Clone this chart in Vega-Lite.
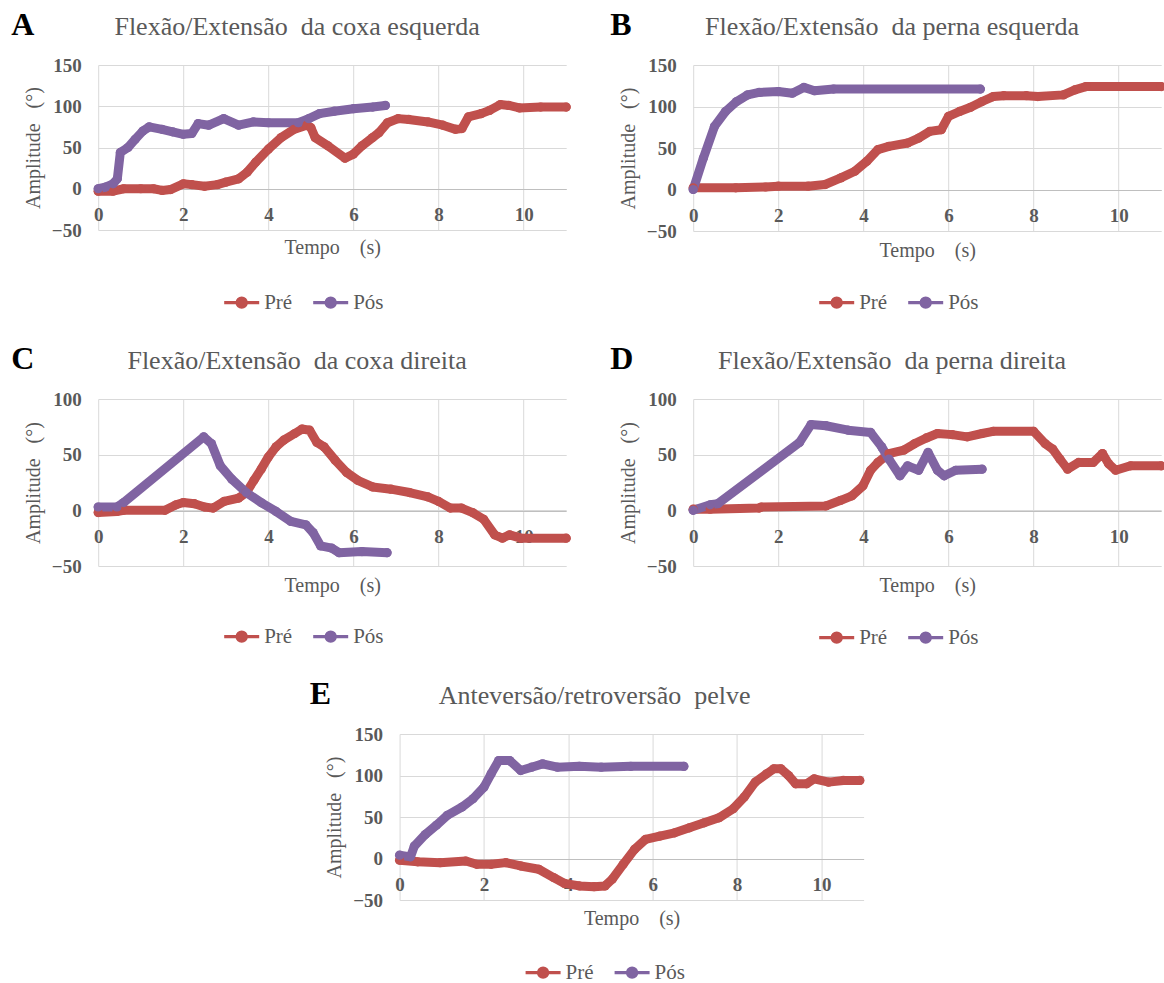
{
  "$schema": "https://vega.github.io/schema/vega-lite/v6.json",
  "background": "white",
  "padding": {"left": 11, "top": 9, "right": 0, "bottom": 0},
  "config": {
    "font": "Liberation Serif",
    "view": {"stroke": null},
    "title": {"font": "Liberation Serif", "fontSize": 26, "fontWeight": "normal", "color": "#595959", "offset": 16, "frame": "bounds"},
    "axis": {
      "labelFont": "Liberation Serif", "labelFontSize": 19, "labelFontWeight": "bold", "labelColor": "#595959",
      "titleFont": "Liberation Serif", "titleFontSize": 20, "titleFontWeight": "normal", "titleColor": "#595959",
      "ticks": false, "tickSize": 0, "gridColor": "#D9D9D9", "gridWidth": 1, "domainColor": "#BFBFBF", "domainWidth": 1.2
    },
    "axisY": {"domain": false, "labelPadding": 17, "titlePadding": 8},
    "axisX": {"labelPadding": 16, "labelFlush": false, "titleBaseline": "middle"},
    "legend": {
      "orient": "none", "direction": "horizontal", "labelFont": "Liberation Serif", "labelFontSize": 21, "labelColor": "#595959",
      "symbolType": "M-1,0L1,0M0.26,0A0.26,0.26,0,1,1,-0.26,0A0.26,0.26,0,1,1,0.26,0Z",
      "symbolSize": 1225, "symbolStrokeWidth": 3.3, "labelOffset": 3, "columnPadding": 14
    }
  },
  "datasets": {
    "A": [
      {"t":0,"v":-3,"s":"Pré"},{"t":0.35,"v":-3,"s":"Pré"},{"t":0.6,"v":0,"s":"Pré"},{"t":1.0,"v":0,"s":"Pré"},{"t":1.3,"v":0,"s":"Pré"},{"t":1.5,"v":-2,"s":"Pré"},{"t":1.7,"v":-1,"s":"Pré"},{"t":2.0,"v":6,"s":"Pré"},{"t":2.2,"v":5,"s":"Pré"},{"t":2.5,"v":3,"s":"Pré"},{"t":2.8,"v":5,"s":"Pré"},{"t":3.0,"v":8,"s":"Pré"},{"t":3.3,"v":12,"s":"Pré"},{"t":3.5,"v":20,"s":"Pré"},{"t":3.7,"v":32,"s":"Pré"},{"t":4.0,"v":48,"s":"Pré"},{"t":4.3,"v":62,"s":"Pré"},{"t":4.6,"v":72,"s":"Pré"},{"t":4.9,"v":77,"s":"Pré"},{"t":5.0,"v":74,"s":"Pré"},{"t":5.1,"v":62,"s":"Pré"},{"t":5.4,"v":52,"s":"Pré"},{"t":5.8,"v":37,"s":"Pré"},{"t":6.0,"v":42,"s":"Pré"},{"t":6.2,"v":52,"s":"Pré"},{"t":6.45,"v":62,"s":"Pré"},{"t":6.6,"v":68,"s":"Pré"},{"t":6.8,"v":80,"s":"Pré"},{"t":7.05,"v":85,"s":"Pré"},{"t":7.3,"v":84,"s":"Pré"},{"t":7.75,"v":81,"s":"Pré"},{"t":8.1,"v":77,"s":"Pré"},{"t":8.4,"v":72,"s":"Pré"},{"t":8.55,"v":73,"s":"Pré"},{"t":8.7,"v":87,"s":"Pré"},{"t":9.0,"v":91,"s":"Pré"},{"t":9.2,"v":95,"s":"Pré"},{"t":9.45,"v":102,"s":"Pré"},{"t":9.65,"v":101,"s":"Pré"},{"t":9.9,"v":98,"s":"Pré"},{"t":10.4,"v":99,"s":"Pré"},{"t":11.0,"v":99,"s":"Pré"},
      {"t":0,"v":0,"s":"Pós"},{"t":0.17,"v":2,"s":"Pós"},{"t":0.35,"v":6,"s":"Pós"},{"t":0.45,"v":12,"s":"Pós"},{"t":0.52,"v":44,"s":"Pós"},{"t":0.7,"v":50,"s":"Pós"},{"t":0.87,"v":60,"s":"Pós"},{"t":1.05,"v":70,"s":"Pós"},{"t":1.2,"v":75,"s":"Pós"},{"t":1.5,"v":72,"s":"Pós"},{"t":1.75,"v":69,"s":"Pós"},{"t":2.0,"v":66,"s":"Pós"},{"t":2.2,"v":67,"s":"Pós"},{"t":2.35,"v":79,"s":"Pós"},{"t":2.6,"v":77,"s":"Pós"},{"t":2.95,"v":85,"s":"Pós"},{"t":3.3,"v":77,"s":"Pós"},{"t":3.65,"v":81,"s":"Pós"},{"t":4.0,"v":80,"s":"Pós"},{"t":4.7,"v":80,"s":"Pós"},{"t":4.95,"v":85,"s":"Pós"},{"t":5.2,"v":91,"s":"Pós"},{"t":5.55,"v":94,"s":"Pós"},{"t":6.0,"v":97,"s":"Pós"},{"t":6.45,"v":99,"s":"Pós"},{"t":6.75,"v":101,"s":"Pós"}
    ],
    "B": [
      {"t":0,"v":2,"s":"Pré"},{"t":1.0,"v":2,"s":"Pré"},{"t":1.7,"v":3,"s":"Pré"},{"t":2.0,"v":4,"s":"Pré"},{"t":2.7,"v":4,"s":"Pré"},{"t":3.1,"v":6,"s":"Pré"},{"t":3.47,"v":14,"s":"Pré"},{"t":3.8,"v":22,"s":"Pré"},{"t":4.08,"v":34,"s":"Pré"},{"t":4.34,"v":48,"s":"Pré"},{"t":4.6,"v":52,"s":"Pré"},{"t":5.04,"v":56,"s":"Pré"},{"t":5.3,"v":62,"s":"Pré"},{"t":5.56,"v":70,"s":"Pré"},{"t":5.83,"v":72,"s":"Pré"},{"t":6.0,"v":88,"s":"Pré"},{"t":6.26,"v":94,"s":"Pré"},{"t":6.52,"v":99,"s":"Pré"},{"t":6.79,"v":106,"s":"Pré"},{"t":7.05,"v":112,"s":"Pré"},{"t":7.3,"v":113,"s":"Pré"},{"t":7.83,"v":113,"s":"Pré"},{"t":8.1,"v":112,"s":"Pré"},{"t":8.7,"v":114,"s":"Pré"},{"t":8.97,"v":120,"s":"Pré"},{"t":9.23,"v":124,"s":"Pré"},{"t":11.0,"v":124,"s":"Pré"},
      {"t":0,"v":0,"s":"Pós"},{"t":0.24,"v":38,"s":"Pós"},{"t":0.5,"v":76,"s":"Pós"},{"t":0.76,"v":94,"s":"Pós"},{"t":1.02,"v":106,"s":"Pós"},{"t":1.28,"v":114,"s":"Pós"},{"t":1.55,"v":117,"s":"Pós"},{"t":2.0,"v":118,"s":"Pós"},{"t":2.33,"v":116,"s":"Pós"},{"t":2.6,"v":123,"s":"Pós"},{"t":2.85,"v":119,"s":"Pós"},{"t":3.3,"v":121,"s":"Pós"},{"t":6.75,"v":121,"s":"Pós"}
    ],
    "C": [
      {"t":0,"v":-2,"s":"Pré"},{"t":0.44,"v":-1,"s":"Pré"},{"t":0.6,"v":0,"s":"Pré"},{"t":1.57,"v":0,"s":"Pré"},{"t":1.83,"v":5,"s":"Pré"},{"t":2.0,"v":7,"s":"Pré"},{"t":2.26,"v":6,"s":"Pré"},{"t":2.5,"v":3,"s":"Pré"},{"t":2.7,"v":2,"s":"Pré"},{"t":2.96,"v":8,"s":"Pré"},{"t":3.3,"v":11,"s":"Pré"},{"t":3.48,"v":16,"s":"Pré"},{"t":3.66,"v":27,"s":"Pré"},{"t":3.83,"v":37,"s":"Pré"},{"t":4.0,"v":48,"s":"Pré"},{"t":4.18,"v":57,"s":"Pré"},{"t":4.36,"v":63,"s":"Pré"},{"t":4.62,"v":69,"s":"Pré"},{"t":4.79,"v":73,"s":"Pré"},{"t":4.97,"v":72,"s":"Pré"},{"t":5.14,"v":61,"s":"Pré"},{"t":5.31,"v":57,"s":"Pré"},{"t":5.57,"v":45,"s":"Pré"},{"t":5.84,"v":34,"s":"Pré"},{"t":6.1,"v":27,"s":"Pré"},{"t":6.45,"v":21,"s":"Pré"},{"t":6.88,"v":19,"s":"Pré"},{"t":7.32,"v":16,"s":"Pré"},{"t":7.75,"v":12,"s":"Pré"},{"t":8.0,"v":8,"s":"Pré"},{"t":8.28,"v":2,"s":"Pré"},{"t":8.54,"v":2,"s":"Pré"},{"t":8.8,"v":-2,"s":"Pré"},{"t":9.06,"v":-8,"s":"Pré"},{"t":9.32,"v":-22,"s":"Pré"},{"t":9.5,"v":-25,"s":"Pré"},{"t":9.67,"v":-22,"s":"Pré"},{"t":9.93,"v":-25,"s":"Pré"},{"t":11.0,"v":-25,"s":"Pré"},
      {"t":0,"v":3,"s":"Pós"},{"t":0.44,"v":3,"s":"Pós"},{"t":0.6,"v":7,"s":"Pós"},{"t":2.48,"v":66,"s":"Pós"},{"t":2.66,"v":60,"s":"Pós"},{"t":2.87,"v":40,"s":"Pós"},{"t":3.14,"v":28,"s":"Pós"},{"t":3.48,"v":16,"s":"Pós"},{"t":3.83,"v":7,"s":"Pós"},{"t":4.18,"v":-1,"s":"Pós"},{"t":4.53,"v":-10,"s":"Pós"},{"t":4.88,"v":-13,"s":"Pós"},{"t":5.05,"v":-20,"s":"Pós"},{"t":5.23,"v":-32,"s":"Pós"},{"t":5.49,"v":-34,"s":"Pós"},{"t":5.66,"v":-38,"s":"Pós"},{"t":6.2,"v":-37,"s":"Pós"},{"t":6.79,"v":-38,"s":"Pós"}
    ],
    "D": [
      {"t":0,"v":1,"s":"Pré"},{"t":0.4,"v":1,"s":"Pré"},{"t":1.55,"v":2,"s":"Pré"},{"t":1.6,"v":3,"s":"Pré"},{"t":3.12,"v":4,"s":"Pré"},{"t":3.47,"v":9,"s":"Pré"},{"t":3.73,"v":13,"s":"Pré"},{"t":3.99,"v":22,"s":"Pré"},{"t":4.17,"v":36,"s":"Pré"},{"t":4.34,"v":43,"s":"Pré"},{"t":4.6,"v":51,"s":"Pré"},{"t":4.95,"v":54,"s":"Pré"},{"t":5.21,"v":60,"s":"Pré"},{"t":5.48,"v":65,"s":"Pré"},{"t":5.74,"v":69,"s":"Pré"},{"t":6.09,"v":68,"s":"Pré"},{"t":6.44,"v":66,"s":"Pré"},{"t":6.79,"v":69,"s":"Pré"},{"t":7.05,"v":71,"s":"Pré"},{"t":8.0,"v":71,"s":"Pré"},{"t":8.27,"v":60,"s":"Pré"},{"t":8.45,"v":55,"s":"Pré"},{"t":8.62,"v":46,"s":"Pré"},{"t":8.8,"v":37,"s":"Pré"},{"t":9.06,"v":43,"s":"Pré"},{"t":9.4,"v":43,"s":"Pré"},{"t":9.62,"v":51,"s":"Pré"},{"t":9.76,"v":42,"s":"Pré"},{"t":9.93,"v":36,"s":"Pré"},{"t":10.28,"v":40,"s":"Pré"},{"t":11.0,"v":40,"s":"Pré"},
      {"t":0,"v":0,"s":"Pós"},{"t":0.4,"v":5,"s":"Pós"},{"t":0.58,"v":6,"s":"Pós"},{"t":2.5,"v":61,"s":"Pós"},{"t":2.77,"v":77,"s":"Pós"},{"t":3.12,"v":76,"s":"Pós"},{"t":3.64,"v":72,"s":"Pós"},{"t":4.17,"v":70,"s":"Pós"},{"t":4.43,"v":57,"s":"Pós"},{"t":4.6,"v":46,"s":"Pós"},{"t":4.86,"v":31,"s":"Pós"},{"t":5.04,"v":40,"s":"Pós"},{"t":5.3,"v":36,"s":"Pós"},{"t":5.52,"v":52,"s":"Pós"},{"t":5.74,"v":36,"s":"Pós"},{"t":5.9,"v":31,"s":"Pós"},{"t":6.17,"v":36,"s":"Pós"},{"t":6.79,"v":37,"s":"Pós"}
    ],
    "E": [
      {"t":0,"v":-2,"s":"Pré"},{"t":0.43,"v":-4,"s":"Pré"},{"t":0.96,"v":-5,"s":"Pré"},{"t":1.57,"v":-3,"s":"Pré"},{"t":1.83,"v":-7,"s":"Pré"},{"t":2.17,"v":-7,"s":"Pré"},{"t":2.52,"v":-5,"s":"Pré"},{"t":2.87,"v":-9,"s":"Pré"},{"t":3.3,"v":-13,"s":"Pré"},{"t":3.65,"v":-23,"s":"Pré"},{"t":3.91,"v":-30,"s":"Pré"},{"t":4.26,"v":-33,"s":"Pré"},{"t":4.61,"v":-34,"s":"Pré"},{"t":4.87,"v":-33,"s":"Pré"},{"t":5.04,"v":-25,"s":"Pré"},{"t":5.3,"v":-7,"s":"Pré"},{"t":5.57,"v":11,"s":"Pré"},{"t":5.83,"v":23,"s":"Pré"},{"t":6.17,"v":27,"s":"Pré"},{"t":6.52,"v":31,"s":"Pré"},{"t":6.87,"v":37,"s":"Pré"},{"t":7.22,"v":43,"s":"Pré"},{"t":7.57,"v":49,"s":"Pré"},{"t":7.91,"v":60,"s":"Pré"},{"t":8.17,"v":74,"s":"Pré"},{"t":8.43,"v":92,"s":"Pré"},{"t":8.7,"v":102,"s":"Pré"},{"t":8.87,"v":108,"s":"Pré"},{"t":9.04,"v":108,"s":"Pré"},{"t":9.22,"v":100,"s":"Pré"},{"t":9.39,"v":90,"s":"Pré"},{"t":9.65,"v":90,"s":"Pré"},{"t":9.83,"v":96,"s":"Pré"},{"t":10.17,"v":92,"s":"Pré"},{"t":10.52,"v":94,"s":"Pré"},{"t":10.91,"v":94,"s":"Pré"},
      {"t":0,"v":4,"s":"Pós"},{"t":0.26,"v":2,"s":"Pós"},{"t":0.35,"v":15,"s":"Pós"},{"t":0.61,"v":29,"s":"Pós"},{"t":0.87,"v":40,"s":"Pós"},{"t":1.13,"v":52,"s":"Pós"},{"t":1.48,"v":62,"s":"Pós"},{"t":1.74,"v":72,"s":"Pós"},{"t":2.0,"v":86,"s":"Pós"},{"t":2.17,"v":102,"s":"Pós"},{"t":2.35,"v":118,"s":"Pós"},{"t":2.61,"v":118,"s":"Pós"},{"t":2.87,"v":106,"s":"Pós"},{"t":3.13,"v":110,"s":"Pós"},{"t":3.39,"v":114,"s":"Pós"},{"t":3.74,"v":110,"s":"Pós"},{"t":4.26,"v":111,"s":"Pós"},{"t":4.78,"v":110,"s":"Pós"},{"t":5.48,"v":111,"s":"Pós"},{"t":6.74,"v":111,"s":"Pós"}
    ]
  },
  "resolve": {"scale": {"color": "independent"}, "legend": {"color": "independent"}},
  "center": true,
  "spacing": 29,
  "vconcat": [
    {
      "resolve": {"scale": {"color": "independent"}, "legend": {"color": "independent"}},
      "spacing": 39,
      "hconcat": [
        {
          "title": {"text": "A", "anchor": "start", "fontSize": 32, "fontWeight": "bold", "color": "black", "offset": -28, "dx": -12, "frame": "bounds"},
          "resolve": {"scale": {"color": "independent"}, "legend": {"color": "independent"}},
          "hconcat": [{
            "width": 468, "height": 165,
            "title": {"text": "Flexão/Extensão\u00a0\u00a0da coxa esquerda"},
            "data": {"name": "A"},
            "mark": {"type": "line", "strokeWidth": 9, "strokeCap": "round", "strokeJoin": "round", "point": {"filled": true, "size": 85}},
            "encoding": {
              "x": {"field": "t", "type": "quantitative", "scale": {"domain": [0, 11], "nice": false}, "axis": {"values": [0, 2, 4, 6, 8, 10], "offset": -41, "title": "Tempo\u00a0\u00a0\u00a0\u00a0(s)", "titleY": 58}},
              "y": {"field": "v", "type": "quantitative", "scale": {"domain": [-50, 150], "nice": false}, "axis": {"values": [-50, 0, 50, 100, 150], "title": "Amplitude\u00a0\u00a0\u00a0(°)"}},
              "color": {"field": "s", "type": "nominal", "scale": {"domain": ["Pré", "Pós"], "range": ["#C0504D", "#8064A2"]}, "legend": {"title": null, "legendX": 124, "legendY": 218}}
            }
          }]
        },
        {
          "title": {"text": "B", "anchor": "start", "fontSize": 32, "fontWeight": "bold", "color": "black", "offset": -28, "dx": -8, "frame": "bounds"},
          "resolve": {"scale": {"color": "independent"}, "legend": {"color": "independent"}},
          "hconcat": [{
            "width": 468, "height": 166,
            "title": {"text": "Flexão/Extensão\u00a0\u00a0da perna esquerda"},
            "data": {"name": "B"},
            "mark": {"type": "line", "strokeWidth": 9, "strokeCap": "round", "strokeJoin": "round", "point": {"filled": true, "size": 85}},
            "encoding": {
              "x": {"field": "t", "type": "quantitative", "scale": {"domain": [0, 11], "nice": false}, "axis": {"values": [0, 2, 4, 6, 8, 10], "offset": -41, "title": "Tempo\u00a0\u00a0\u00a0\u00a0(s)", "titleY": 60}},
              "y": {"field": "v", "type": "quantitative", "scale": {"domain": [-50, 150], "nice": false}, "axis": {"values": [-50, 0, 50, 100, 150], "title": "Amplitude\u00a0\u00a0\u00a0(°)"}},
              "color": {"field": "s", "type": "nominal", "scale": {"domain": ["Pré", "Pós"], "range": ["#C0504D", "#8064A2"]}, "legend": {"title": null, "legendX": 124, "legendY": 218}}
            }
          }]
        }
      ]
    },
    {
      "resolve": {"scale": {"color": "independent"}, "legend": {"color": "independent"}},
      "spacing": 39,
      "hconcat": [
        {
          "title": {"text": "C", "anchor": "start", "fontSize": 32, "fontWeight": "bold", "color": "black", "offset": -28, "dx": -12, "frame": "bounds"},
          "resolve": {"scale": {"color": "independent"}, "legend": {"color": "independent"}},
          "hconcat": [{
            "width": 468, "height": 167,
            "title": {"text": "Flexão/Extensão\u00a0\u00a0da coxa direita"},
            "data": {"name": "C"},
            "mark": {"type": "line", "strokeWidth": 9, "strokeCap": "round", "strokeJoin": "round", "point": {"filled": true, "size": 85}},
            "encoding": {
              "x": {"field": "t", "type": "quantitative", "scale": {"domain": [0, 11], "nice": false}, "axis": {"values": [0, 2, 4, 6, 8, 10], "offset": -55, "title": "Tempo\u00a0\u00a0\u00a0\u00a0(s)", "titleY": 74}},
              "y": {"field": "v", "type": "quantitative", "scale": {"domain": [-50, 100], "nice": false}, "axis": {"values": [-50, 0, 50, 100], "title": "Amplitude\u00a0\u00a0\u00a0(°)"}},
              "color": {"field": "s", "type": "nominal", "scale": {"domain": ["Pré", "Pós"], "range": ["#C0504D", "#8064A2"]}, "legend": {"title": null, "legendX": 124, "legendY": 218}}
            }
          }]
        },
        {
          "title": {"text": "D", "anchor": "start", "fontSize": 32, "fontWeight": "bold", "color": "black", "offset": -28, "dx": -8, "frame": "bounds"},
          "resolve": {"scale": {"color": "independent"}, "legend": {"color": "independent"}},
          "hconcat": [{
            "width": 468, "height": 167,
            "title": {"text": "Flexão/Extensão\u00a0\u00a0da perna direita"},
            "data": {"name": "D"},
            "mark": {"type": "line", "strokeWidth": 9, "strokeCap": "round", "strokeJoin": "round", "point": {"filled": true, "size": 85}},
            "encoding": {
              "x": {"field": "t", "type": "quantitative", "scale": {"domain": [0, 11], "nice": false}, "axis": {"values": [0, 2, 4, 6, 8, 10], "offset": -55, "title": "Tempo\u00a0\u00a0\u00a0\u00a0(s)", "titleY": 74}},
              "y": {"field": "v", "type": "quantitative", "scale": {"domain": [-50, 100], "nice": false}, "axis": {"values": [-50, 0, 50, 100], "title": "Amplitude\u00a0\u00a0\u00a0(°)"}},
              "color": {"field": "s", "type": "nominal", "scale": {"domain": ["Pré", "Pós"], "range": ["#C0504D", "#8064A2"]}, "legend": {"title": null, "legendX": 124, "legendY": 219}}
            }
          }]
        }
      ]
    },
    {
      "title": {"text": "E", "anchor": "start", "fontSize": 32, "fontWeight": "bold", "color": "black", "offset": -28, "dx": -15, "frame": "bounds"},
      "resolve": {"scale": {"color": "independent"}, "legend": {"color": "independent"}},
      "hconcat": [{
        "width": 464, "height": 166,
        "title": {"text": "Anteversão/retroversão\u00a0\u00a0pelve"},
        "data": {"name": "E"},
        "mark": {"type": "line", "strokeWidth": 9, "strokeCap": "round", "strokeJoin": "round", "point": {"filled": true, "size": 85}},
        "encoding": {
          "x": {"field": "t", "type": "quantitative", "scale": {"domain": [0, 11], "nice": false}, "axis": {"values": [0, 2, 4, 6, 8, 10], "offset": -41, "title": "Tempo\u00a0\u00a0\u00a0\u00a0(s)", "titleY": 59}},
          "y": {"field": "v", "type": "quantitative", "scale": {"domain": [-50, 150], "nice": false}, "axis": {"values": [-50, 0, 50, 100, 150], "title": "Amplitude\u00a0\u00a0\u00a0(°)"}},
          "color": {"field": "s", "type": "nominal", "scale": {"domain": ["Pré", "Pós"], "range": ["#C0504D", "#8064A2"]}, "legend": {"title": null, "legendX": 124, "legendY": 219}}
        }
      }]
    }
  ]
}
